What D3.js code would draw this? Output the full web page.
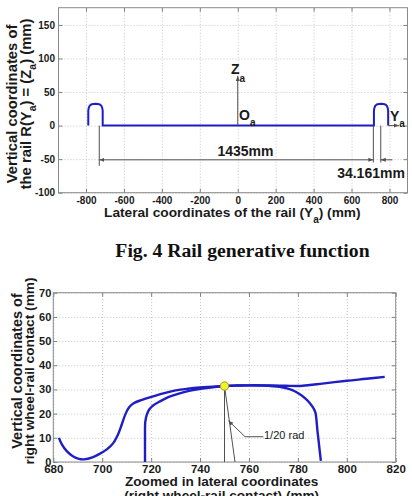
<!DOCTYPE html>
<html><head><meta charset="utf-8">
<script src="https://cdn.jsdelivr.net/npm/d3@7/dist/d3.min.js"></script>
<style>body{margin:0;background:#fff}svg{display:block}</style>
</head><body>
<svg id="c" width="412" height="496"></svg>
<script>
// ---------- data ----------
const topXTicks = [-800,-600,-400,-200,0,200,400,600,800];
const topYTicks = [-100,-50,0,50,100,150];
const botXTicks = [680,700,720,740,760,780,800,820];
const botYTicks = [0,10,20,30,40,50,60,70];

// rail generative function (Y_a, Z_a) in mm
const railProfile = [
  [-788,0],[-788,22],[-786,26],[-781,29.5],[-773,31.5],[-762,32.2],[-750,32.4],[-738,32.2],[-727,31.5],[-719,29.5],[-714,26],[-712,22],[-712,0],
  [718,0],[718,22],[720,26],[725,29.5],[733,31.5],[744,32.2],[756,32.4],[767,32.2],[778,31.5],[786,29.5],[791,26],[793,22],[793,0]
];
// zoomed right wheel-rail contact
const wheelCurve = [
  [682.3,10],[683.5,7.3],[685.5,4.5],[688,2.4],[690.5,1.3],[692.5,1.1],[696,1.9],[699,3.4],[702,5.3],[704.5,7.8],[706.5,11.5],[708,15.5],[709.5,19.8],[711,22.6],[713,24.4],[716,25.6],[720,26.9],[725,28.4],[730,29.6],[735,30.3],[740,30.8],[745,31.1],[750,31.4],[755,31.6],[760,31.7],[765,31.7],[770,31.6],[775,31.5],[780,31.4],[782,31.5],[790,32.4],[800,33.6],[808,34.4],[815.5,35.2]
];
const railCurve = [
  [717.5,0],[717.5,10],[717.6,16.5],[718.2,19.5],[719.3,21.8],[721,23.5],[723.5,25],[727,26.8],[731,28.2],[736,29.5],[741,30.4],[746,31],[750,31.4],[755,31.6],[760,31.7],[765,31.6],[770,31.3],[774,30.8],[777.5,29.8],[780.5,28.2],[783,26.3],[785,24.2],[786.5,22],[787.2,20.3],[788,13],[789,4],[789.4,0.5]
];
const contactPoint = [750,31.4];

// ---------- drawing ----------
const svg = d3.select('#c');
const FONT = '"Liberation Sans", Arial, sans-serif';
const BLUE = '#1e1ec4';
const GRAY = '#505050';

const defs = svg.append('defs');
defs.append('marker').attr('id','arr').attr('viewBox','0 0 10 10').attr('refX',10).attr('refY',5)
  .attr('markerWidth',5).attr('markerHeight',5).attr('orient','auto-start-reverse').attr('markerUnits','userSpaceOnUse')
  .append('path').attr('d','M0,1 L10,5 L0,9 Z').attr('fill',GRAY);

const fmt = d => String(d);

function axesBox(x, y, xTicks, yTicks, fsX, fsY, padX, padY) {
  const [x0,x1] = x.range(), [y0,y1] = y.range();
  const g = svg.append('g');
  // grid
  g.append('g').attr('transform',`translate(0,${y0})`)
    .call(d3.axisBottom(x).tickValues(xTicks).tickSize(-(y0-y1)).tickFormat(''))
    .call(s=>{s.select('.domain').remove();s.selectAll('line').attr('stroke','#c4c4c4').attr('stroke-dasharray','1,2');});
  g.append('g').attr('transform',`translate(${x0},0)`)
    .call(d3.axisLeft(y).tickValues(yTicks).tickSize(-(x1-x0)).tickFormat(''))
    .call(s=>{s.select('.domain').remove();s.selectAll('line').attr('stroke','#c4c4c4').attr('stroke-dasharray','1,2');});
  // axes with inward ticks
  const ax = [
    [d3.axisBottom(x).tickValues(xTicks).tickSizeInner(-4).tickSizeOuter(0).tickPadding(padX).tickFormat(fmt), `translate(0,${y0})`],
    [d3.axisTop(x).tickValues(xTicks).tickSizeInner(-4).tickSizeOuter(0).tickFormat(''), `translate(0,${y1})`],
    [d3.axisLeft(y).tickValues(yTicks).tickSizeInner(-4).tickSizeOuter(0).tickPadding(padY).tickFormat(fmt), `translate(${x0},0)`],
    [d3.axisRight(y).tickValues(yTicks).tickSizeInner(-4).tickSizeOuter(0).tickFormat(''), `translate(${x1},0)`]
  ];
  ax.forEach(([a,t],i)=>{
    const s = g.append('g').attr('transform',t).call(a);
    s.select('.domain').remove();
    s.selectAll('line').attr('stroke','#808080');
    s.selectAll('text').attr('font-family',FONT).attr('font-weight','bold')
      .attr('font-size', i<2?fsX:fsY).attr('fill','#1a1a1a');
  });
  g.append('rect').attr('x',x0).attr('y',y1).attr('width',x1-x0).attr('height',y0-y1)
    .attr('fill','none').attr('stroke','#8a8a8a').attr('stroke-width',1);
  return g;
}

function sub(t, main, s, subSize, dy) {
  t.append('tspan').text(main);
  t.append('tspan').text(s).attr('font-size',subSize).attr('dy',dy);
}

// ===== top chart =====
const xT = d3.scaleLinear().domain([-945,895]).range([58.5,407.5]);
const yT = d3.scaleLinear().domain([-100,175.7]).range([192.7,7.7]);
axesBox(xT, yT, topXTicks, topYTicks, 10, 10, 4.2, 3.5);

svg.append('path').datum(railProfile)
  .attr('d', d3.line().x(d=>xT(d[0])).y(d=>yT(d[1])))
  .attr('fill','none').attr('stroke',BLUE).attr('stroke-width',2);

// coordinate axes arrows
const ann = svg.append('g').attr('stroke',GRAY).attr('stroke-width',1).attr('fill','none');
ann.append('line').attr('x1',xT(0)).attr('y1',yT(0)).attr('x2',xT(0)).attr('y2',yT(74)).attr('marker-end','url(#arr)');
ann.append('line').attr('x1',xT(793)).attr('y1',yT(0)).attr('x2',xT(850)).attr('y2',yT(0)).attr('marker-end','url(#arr)');
// dimension lines
ann.append('line').attr('x1',xT(-730)).attr('y1',yT(0)).attr('x2',xT(-730)).attr('y2',yT(-60));
ann.append('line').attr('x1',xT(715)).attr('y1',yT(0)).attr('x2',xT(715)).attr('y2',yT(-55));
ann.append('line').attr('x1',xT(754)).attr('y1',yT(0)).attr('x2',xT(754)).attr('y2',yT(-55));
ann.append('line').attr('x1',xT(-730)).attr('y1',yT(-51)).attr('x2',xT(715)).attr('y2',yT(-51))
  .attr('marker-start','url(#arr)').attr('marker-end','url(#arr)');
ann.append('line').attr('x1',xT(815)).attr('y1',yT(-51)).attr('x2',xT(754)).attr('y2',yT(-51)).attr('marker-end','url(#arr)');

const lab = (x,y,fs,w,anchor)=>svg.append('text').attr('x',x).attr('y',y).attr('font-family',FONT)
  .attr('font-size',fs).attr('font-weight',w||'bold').attr('fill','#1a1a1a').attr('text-anchor',anchor||'start');

sub(lab(231,74,14), 'Z','a',10,7.5);
sub(lab(239,120,14), 'O','a',10,5.5);
sub(lab(390,121,14), 'Y','a',10,6);
lab(245.5,156,14,'bold','middle').text('1435mm');
lab(371,178,14,'bold','middle').text('34.161mm');

// axis labels top
{
  const t = lab(232.3,217.3,13.7,'bold','middle');
  t.append('tspan').text('Lateral coordinates of the rail (Y');
  t.append('tspan').text('a').attr('font-size',10).attr('dy',6);
  t.append('tspan').text(') (mm)').attr('dy',-6);
}
{
  const g = svg.append('g').attr('transform','translate(0,104) rotate(-90)');
  g.append('text').attr('x',0).attr('y',17).attr('text-anchor','middle').attr('font-family',FONT)
    .attr('font-weight','bold').attr('font-size',14.8).attr('fill','#1a1a1a').text('Vertical coordinates of');
  const t = g.append('text').attr('x',0).attr('y',30.5).attr('text-anchor','middle').attr('font-family',FONT)
    .attr('font-weight','bold').attr('font-size',14.8).attr('fill','#1a1a1a');
  t.append('tspan').text('the rail R(Y');
  t.append('tspan').text('a').attr('font-size',10.5).attr('dy',5);
  t.append('tspan').text(') = (Z').attr('dy',-5);
  t.append('tspan').text('a').attr('font-size',10.5).attr('dy',5);
  t.append('tspan').text(') (mm)').attr('dy',-5);
}

// caption
svg.append('text').attr('x',242.5).attr('y',257).attr('text-anchor','middle')
  .attr('font-family','"Liberation Serif","Times New Roman",serif').attr('font-weight','bold')
  .attr('font-size',19.7).attr('fill','#111').text('Fig. 4 Rail generative function');

// ===== bottom chart =====
const xB = d3.scaleLinear().domain([680,820]).range([53.3,395.7]);
const yB = d3.scaleLinear().domain([0,70]).range([462,292.7]);
axesBox(xB, yB, botXTicks, botYTicks, 11.5, 11, 2.5, 2);

const lineB = d3.line().x(d=>xB(d[0])).y(d=>yB(d[1])).curve(d3.curveCatmullRom.alpha(0.5));
[wheelCurve, railCurve].forEach(c=>{
  svg.append('path').datum(c).attr('d',lineB).attr('fill','none').attr('stroke',BLUE).attr('stroke-width',2.4);
});

const ann2 = svg.append('g').attr('stroke',GRAY).attr('stroke-width',1).attr('fill','none');
ann2.append('line').attr('x1',xB(contactPoint[0])).attr('y1',yB(contactPoint[1])).attr('x2',xB(750)).attr('y2',yB(0));
ann2.append('line').attr('x1',xB(contactPoint[0])).attr('y1',yB(contactPoint[1])).attr('x2',xB(754.3)).attr('y2',yB(0));
ann2.append('polyline').attr('points',[[xB(765.9),yB(10.45)],[xB(758.4),yB(10.45)],[xB(751.6),yB(17.1)]].map(p=>p.join(',')).join(' '))
  .attr('marker-end','url(#arr)');

svg.append('circle').attr('cx',xB(contactPoint[0])).attr('cy',yB(contactPoint[1])).attr('r',4.2)
  .attr('fill','#f4f02a').attr('stroke','#a09a10').attr('stroke-width',1);

lab(264,439.3,11,'normal','start').text('1/20 rad');

lab(221.7,486,13.6,'bold','middle').text('Zoomed in lateral coordinates');
lab(221.7,500,13.6,'bold','middle').text('(right wheel-rail contact) (mm)');
{
  const g = svg.append('g').attr('transform','translate(0,371) rotate(-90)');
  g.append('text').attr('x',0).attr('y',21.5).attr('text-anchor','middle').attr('font-family',FONT)
    .attr('font-weight','bold').attr('font-size',14.5).attr('fill','#1a1a1a').text('Vertical coordinates of');
  g.append('text').attr('x',0).attr('y',34).attr('text-anchor','middle').attr('font-family',FONT)
    .attr('font-weight','bold').attr('font-size',13.7).attr('fill','#1a1a1a').text('right wheel-rail contact (mm)');
}
</script>
</body></html>
